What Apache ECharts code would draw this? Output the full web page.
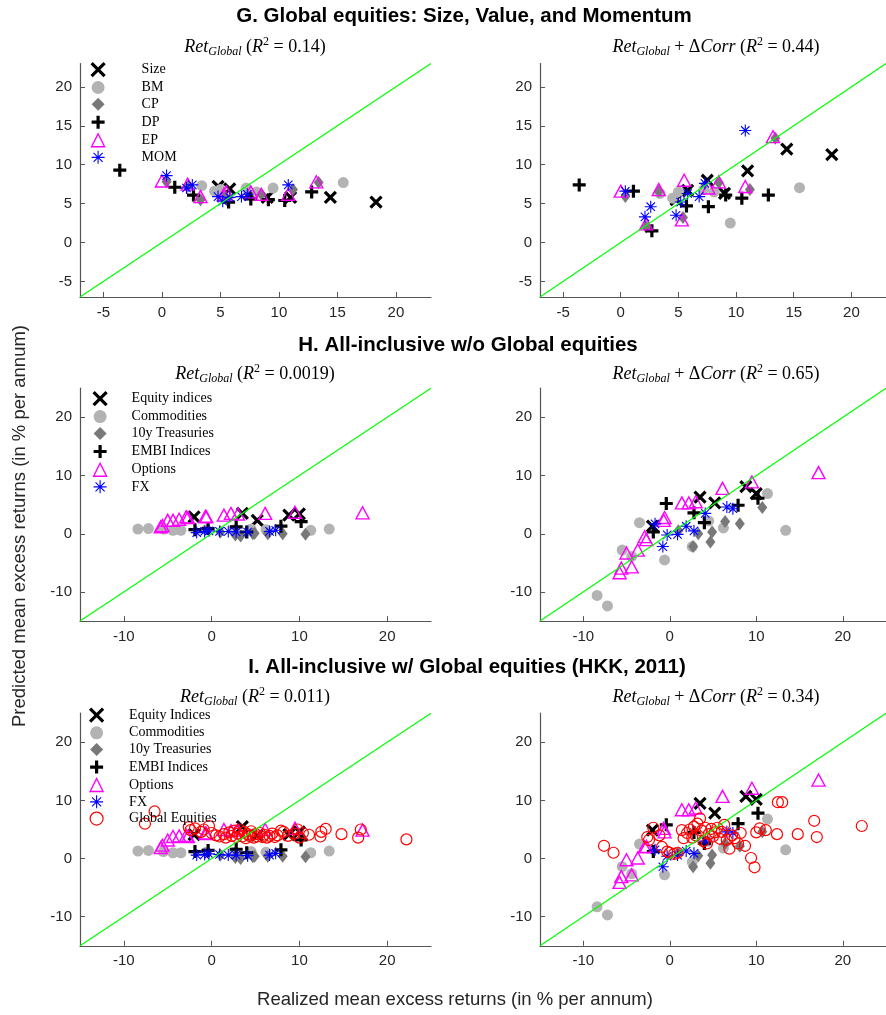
<!DOCTYPE html>
<html>
<head>
<meta charset="utf-8">
<script src="https://cdn.jsdelivr.net/npm/echarts@6/dist/echarts.min.js"></script>
<style>
html, body { margin: 0; padding: 0; background: #fff; }
#chart { width: 886px; height: 1015px; }
</style>
</head>
<body>
<div id="chart"></div>
<script>
// ---- panel G: global equities (x = realized, y = predicted) ----
var sizeX = [4.8, 5.8, 7.5, 9.0, 11.0, 14.4, 18.3];
var sizeRet = [7.2, 6.9, 6.2, 5.8, 5.8, 5.8, 5.2];
var sizeCorr = [5.5, 6.7, 8.0, 6.3, 9.2, 12.0, 11.3];

var bmX = [3.4, 4.5, 5.0, 7.2, 8.1, 9.5, 15.5];
var bmRet = [7.3, 6.6, 6.8, 7.0, 6.5, 7.0, 7.7];
var bmCorr = [6.3, 5.7, 6.5, 6.8, 6.5, 2.5, 7.05];

var cpX = [0.4, 2.2, 3.3, 5.4, 8.5, 11.2, 13.4];
var cpRet = [7.8, 7.2, 5.5, 5.9, 6.2, 6.8, 7.7];
var cpCorr = [5.9, 2.0, 6.6, 3.2, 7.7, 6.8, 13.4];

var dpX = [-3.6, 1.1, 2.7, 5.7, 7.6, 9.1, 10.5, 12.8];
var dpRet = [9.3, 7.1, 6.1, 5.2, 5.6, 5.5, 5.4, 6.5];
var dpCorr = [7.4, 6.6, 1.5, 4.7, 4.6, 6.1, 5.7, 6.1];

var epX = [0.0, 2.2, 3.3, 5.3, 5.5, 7.6, 8.5, 10.8, 13.2];
var epRet = [7.9, 7.5, 5.9, 6.2, 6.5, 6.5, 6.2, 6.2, 7.8];
var epCorr = [6.6, 2.4, 6.8, 2.9, 8.0, 7.0, 7.8, 7.2, 13.6];

var momX = [0.4, 2.1, 2.6, 4.8, 5.2, 5.8, 6.8, 7.3, 10.8];
var momRet = [8.6, 7.0, 7.4, 5.9, 5.3, 5.8, 5.9, 6.2, 7.4];
var momCorr = [6.6, 3.3, 4.6, 3.5, 5.2, 6.3, 5.9, 7.6, 14.4];

// ---- panels H and I: all-inclusive ----
var eqX = [-2.0, 3.5, 5.2, 8.8, 10.0];
var eqRetH = [2.9, 3.5, 2.3, 3.2, 3.4];
var eqCorrH = [1.3, 6.3, 5.3, 8.1, 6.9];
var eqRetI = [4.1, 5.5, 4.0, 4.1, 4.6];
var eqCorrI = [4.9, 9.5, 7.8, 10.7, 10.2];

var comX = [-8.4, -7.2, -5.5, -4.4, -3.5, -0.6, 2.6, 4.5, 6.2, 11.3, 13.4];
var comRetH = [0.8, 0.9, 0.8, 0.6, 0.6, 0.7, 0.7, 0.8, 0.7, 0.6, 0.8];
var comCorrH = [-10.6, -12.4, -2.8, -3.9, 1.9, -4.5, -2.2, 2.2, 1.0, 6.9, 0.6];
var comRetI = [1.3, 1.4, 1.2, 1.0, 1.0, 1.1, 1.1, 1.2, 1.1, 1.0, 1.3];
var comCorrI = [-8.3, -9.7, -1.4, -2.6, 2.5, -2.8, -0.6, 3.0, 1.8, 6.8, 1.5];

var tsyX = [1.0, 2.7, 3.3, 4.7, 4.9, 6.4, 8.1, 10.7];
var tsyRetH = [0.3, -0.2, -0.4, 0.0, 0.1, 0.0, 0.0, -0.1];
var tsyCorrH = [0.5, -2.2, 0.0, -1.4, 0.3, 2.1, 1.7, 4.5];
var tsyRetI = [0.6, 0.2, 0.0, 0.3, 0.4, 0.4, 0.4, 0.3];
var tsyCorrI = [1.0, -1.4, 0.5, -0.8, 0.6, 2.6, 2.1, 4.6];

var embiX = [-1.9, -0.4, 2.8, 4.0, 7.9, 10.2];
var embiRetH = [0.7, 0.9, 1.2, 0.3, 1.3, 2.1];
var embiCorrH = [0.3, 5.2, 3.6, 1.9, 4.9, 6.1];
var embiRetI = [1.2, 1.4, 1.6, 1.0, 1.5, 3.2];
var embiCorrI = [1.2, 5.8, 4.5, 2.6, 6.0, 7.8];

var optX = [-5.8, -5.6, -5.0, -4.4, -3.7, -2.9, -2.7, -0.7, -0.6, 1.4, 2.2, 3.0, 6.1, 9.5, 17.2];
var optRetH = [1.2, 1.4, 2.3, 2.3, 2.5, 2.9, 2.8, 3.0, 2.9, 3.2, 3.5, 3.4, 3.5, 3.7, 3.6];
var optCorrH = [-6.7, -5.9, -3.3, -5.7, -2.8, -0.5, -1.0, 2.3, 2.8, 5.3, 5.3, 5.5, 7.8, 8.9, 10.5];
var optRetI = [1.9, 2.3, 3.2, 3.8, 3.9, 4.0, 3.8, 4.4, 4.3, 5.0, 4.8, 4.9, 5.0, 5.2, 4.9];
var optCorrI = [-4.1, -3.1, -0.2, -2.8, 0.1, 2.0, 2.1, 5.2, 4.6, 8.4, 8.4, 8.7, 10.7, 12.1, 13.5];

var fxX = [-1.7, -0.8, -0.3, 0.9, 1.9, 2.8, 4.1, 6.6, 7.3];
var fxRetH = [0.2, 0.4, 0.5, 0.4, 0.4, 0.3, 0.3, 0.4, 0.6];
var fxCorrH = [1.7, -2.2, -0.2, -0.1, 1.3, 0.5, 3.5, 4.6, 4.3];
var fxRetI = [0.6, 0.7, 0.8, 0.7, 0.6, 0.6, 0.5, 0.6, 0.9];
var fxCorrI = [1.5, -1.4, 0.4, 0.6, 1.3, 0.9, 3.0, 4.6, 4.4];

var geX = [-7.6, -6.5, -2.6, -2.4, -1.9, -1.2, -0.9, -0.3, 0.0, 0.5, 0.9, 1.4, 1.6, 2.0, 2.3, 2.6, 2.8,
  3.0, 3.2, 3.5, 3.7, 3.9, 4.1, 4.3, 4.5, 4.8, 5.0, 5.2, 5.5, 5.8, 6.0, 6.3, 6.6, 6.9, 7.2, 7.5, 7.9,
  8.2, 8.7, 9.4, 9.8, 10.0, 10.4, 11.1, 12.4, 12.5, 13.0, 14.8, 16.7, 17.0, 22.2];
var geRetI = [6.0, 8.1, 5.4, 4.9, 5.2, 4.6, 5.0, 5.6, 4.4, 4.0, 3.8, 4.2, 3.6, 4.5, 3.9, 4.8, 3.7,
  4.3, 5.0, 3.8, 4.6, 3.5, 4.2, 3.9, 4.7, 3.6, 4.2, 3.8, 4.4, 3.7, 4.1, 3.6, 3.9, 4.3, 3.7, 4.0, 4.8,
  4.6, 3.9, 4.3, 5.0, 3.6, 4.4, 4.1, 3.8, 4.6, 5.1, 4.2, 3.6, 5.0, 3.3];
var geCorrI = [2.2, 1.0, 3.7, 3.2, 5.3, 4.0, 2.0, 1.2, 1.0, 0.8, 1.0, 4.9, 3.5, 4.4, 5.0, 3.6, 5.5,
  4.0, 6.0, 6.9, 4.8, 3.0, 5.3, 2.6, 4.2, 5.1, 3.8, 4.5, 5.3, 3.4, 4.6, 5.8, 3.2, 1.7, 4.0, 3.5, 2.6,
  4.4, 2.2, 0.1, -1.5, 4.5, 5.2, 4.9, 4.2, 9.7, 9.7, 4.2, 6.5, 3.7, 5.6];

var ticksG = [-5, 0, 5, 10, 15, 20];
var ticksHI = [-10, 0, 10, 20];

var mk = {
  cross: { symbol: 'path://M0,0L10,10M10,0L0,10', symbolSize: 11, itemStyle: { color: 'transparent', borderColor: '#000', borderWidth: 3.2, opacity: 1 } },
  dot: { symbol: 'circle', symbolSize: 11, itemStyle: { color: '#b3b3b3', opacity: 1 } },
  diamond: { symbol: 'diamond', symbolSize: [10, 13], itemStyle: { color: '#787878', opacity: 1 } },
  plus: { symbol: 'path://M5,0L5,10M0,5L10,5', symbolSize: 13, itemStyle: { color: 'transparent', borderColor: '#000', borderWidth: 3.2, opacity: 1 } },
  tri: { symbol: 'triangle', symbolSize: [13, 12], itemStyle: { color: 'transparent', borderColor: '#ff00ff', borderWidth: 1.4, opacity: 1 } },
  star: { symbol: 'path://M5,0L5,10M0,5L10,5M1.5,1.5L8.5,8.5M8.5,1.5L1.5,8.5', symbolSize: 12, itemStyle: { color: 'transparent', borderColor: '#0000ff', borderWidth: 1.1, opacity: 1 } },
  ring: { symbol: 'circle', symbolSize: 11, itemStyle: { color: 'transparent', borderColor: '#ff0000', borderWidth: 1.2, opacity: 1 } }
};

function pts(xs, ys) {
  return xs.map(function (x, i) { return [x, ys[i]]; });
}

function scatter(name, kind, idx, xs, ys) {
  var m = mk[kind];
  return {
    name: name, type: 'scatter', xAxisIndex: idx, yAxisIndex: idx,
    symbol: m.symbol, symbolSize: m.symbolSize, itemStyle: m.itemStyle,
    silent: true, emphasis: { disabled: true }, data: pts(xs, ys)
  };
}

function diag(idx, lo, hi) {
  return {
    type: 'line', xAxisIndex: idx, yAxisIndex: idx, z: 5, symbol: 'none', silent: true,
    lineStyle: { color: '#00ff00', width: 1.2 }, data: [[lo, lo], [hi, hi]]
  };
}

function axis(idx, lo, hi, ticks) {
  return {
    type: 'value', gridIndex: idx, min: lo, max: hi,
    axisLine: { show: true, onZero: false, lineStyle: { color: '#555', width: 1.2 } },
    axisTick: { show: true, inside: true, length: 5, customValues: ticks, lineStyle: { color: '#555' } },
    axisLabel: { customValues: ticks, color: '#262626', fontSize: 15, fontFamily: 'Liberation Sans', margin: 8 },
    splitLine: { show: false }
  };
}

var grids = [
  { left: 80, top: 63.5, width: 351, height: 233.5 },
  { left: 540, top: 63.5, width: 352, height: 233.5 },
  { left: 80, top: 388.2, width: 351, height: 232.9 },
  { left: 540, top: 388.2, width: 352, height: 232.9 },
  { left: 80, top: 713.2, width: 351, height: 232.6 },
  { left: 540, top: 713.2, width: 352, height: 232.6 }
];

var xAxes = [], yAxes = [];
for (var i = 0; i < 6; i++) {
  var lo = i < 2 ? -7 : -15, hi = i < 2 ? 23 : 25, tk = i < 2 ? ticksG : ticksHI;
  xAxes.push(axis(i, lo, hi, tk));
  yAxes.push(axis(i, lo, hi, tk));
}

var series = [
  scatter('Size', 'cross', 0, sizeX, sizeRet),
  scatter('BM', 'dot', 0, bmX, bmRet),
  scatter('CP', 'diamond', 0, cpX, cpRet),
  scatter('DP', 'plus', 0, dpX, dpRet),
  scatter('EP', 'tri', 0, epX, epRet),
  scatter('MOM', 'star', 0, momX, momRet),
  diag(0, -7, 23),
  scatter('Size', 'cross', 1, sizeX, sizeCorr),
  scatter('BM', 'dot', 1, bmX, bmCorr),
  scatter('CP', 'diamond', 1, cpX, cpCorr),
  scatter('DP', 'plus', 1, dpX, dpCorr),
  scatter('EP', 'tri', 1, epX, epCorr),
  scatter('MOM', 'star', 1, momX, momCorr),
  diag(1, -7, 23),

  scatter('Equity indices', 'cross', 2, eqX, eqRetH),
  scatter('Commodities', 'dot', 2, comX, comRetH),
  scatter('10y Treasuries', 'diamond', 2, tsyX, tsyRetH),
  scatter('EMBI Indices', 'plus', 2, embiX, embiRetH),
  scatter('Options', 'tri', 2, optX, optRetH),
  scatter('FX', 'star', 2, fxX, fxRetH),
  diag(2, -15, 25),
  scatter('Equity indices', 'cross', 3, eqX, eqCorrH),
  scatter('Commodities', 'dot', 3, comX, comCorrH),
  scatter('10y Treasuries', 'diamond', 3, tsyX, tsyCorrH),
  scatter('EMBI Indices', 'plus', 3, embiX, embiCorrH),
  scatter('Options', 'tri', 3, optX, optCorrH),
  scatter('FX', 'star', 3, fxX, fxCorrH),
  diag(3, -15, 25),

  scatter('Equity Indices', 'cross', 4, eqX, eqRetI),
  scatter('Commodities', 'dot', 4, comX, comRetI),
  scatter('10y Treasuries', 'diamond', 4, tsyX, tsyRetI),
  scatter('EMBI Indices', 'plus', 4, embiX, embiRetI),
  scatter('Options', 'tri', 4, optX, optRetI),
  scatter('FX', 'star', 4, fxX, fxRetI),
  scatter('Global Equities', 'ring', 4, geX, geRetI),
  diag(4, -15, 25),
  scatter('Equity Indices', 'cross', 5, eqX, eqCorrI),
  scatter('Commodities', 'dot', 5, comX, comCorrI),
  scatter('10y Treasuries', 'diamond', 5, tsyX, tsyCorrI),
  scatter('EMBI Indices', 'plus', 5, embiX, embiCorrI),
  scatter('Options', 'tri', 5, optX, optCorrI),
  scatter('FX', 'star', 5, fxX, fxCorrI),
  scatter('Global Equities', 'ring', 5, geX, geCorrI),
  diag(5, -15, 25)
];

function legendAt(names, left, top, gap, padLeft) {
  return {
    data: names, left: left, top: top, orient: 'vertical', padding: 0,
    itemWidth: 13, itemHeight: 13, itemGap: gap, selectedMode: false,
    itemStyle: { borderWidth: 'inherit' },
    textStyle: { fontFamily: 'Liberation Serif', fontSize: 14, color: '#000', lineHeight: 13, padding: [0, 0, 0, padLeft] }
  };
}

var serif = 'Liberation Serif';
var subRich = {
  it: { fontFamily: serif, fontStyle: 'italic', fontSize: 18, lineHeight: 22, color: '#000' },
  n: { fontFamily: serif, fontSize: 18, lineHeight: 22, color: '#000' },
  sub: { fontFamily: serif, fontStyle: 'italic', fontSize: 12, lineHeight: 11, verticalAlign: 'bottom', color: '#000' },
  sup: { fontFamily: serif, fontSize: 12, lineHeight: 11, verticalAlign: 'top', color: '#000' }
};
function subtitle(x, y, r2, withCorr) {
  var txt = '{it|Ret}{sub|Global}' + (withCorr ? '{n| + Δ}{it|Corr}' : '') +
    '{n| (}{it|R}{sup|2}{n| = ' + r2 + ')}';
  return { type: 'text', x: x, y: y, style: { text: txt, rich: subRich, align: 'center', verticalAlign: 'middle' } };
}
function heading(x, y, txt) {
  return { type: 'text', x: x, y: y, style: { text: txt, align: 'center', verticalAlign: 'middle',
    fontFamily: 'Liberation Sans', fontWeight: 'bold', fontSize: 20.5, fill: '#000' } };
}

var chart = echarts.init(document.getElementById('chart'));
chart.setOption({
  animation: false,
  backgroundColor: '#fff',
  grid: grids,
  xAxis: xAxes,
  yAxis: yAxes,
  legend: [
    legendAt(['Size', 'BM', 'CP', 'DP', 'EP', 'MOM'], 90, 61.5, 2.8, 32),
    legendAt(['Equity indices', 'Commodities', '10y Treasuries', 'EMBI Indices', 'Options', 'FX'], 92, 390.5, 2.9, 20),
    legendAt(['Equity Indices', 'Commodities', '10y Treasuries', 'EMBI Indices', 'Options', 'FX', 'Global Equities'], 88.5, 707, 2.6, 21)
  ],
  graphic: [
    heading(464, 16, 'G. Global equities: Size, Value, and Momentum'),
    heading(468, 345, 'H. All-inclusive w/o Global equities'),
    heading(467, 667, 'I. All-inclusive w/ Global equities (HKK, 2011)'),
    subtitle(255, 47, '0.14', false),
    subtitle(716, 47, '0.44', true),
    subtitle(255, 374, '0.0019', false),
    subtitle(716, 374, '0.65', true),
    subtitle(255, 697, '0.011', false),
    subtitle(716, 697, '0.34', true),
    { type: 'text', x: 20, y: 526, rotation: Math.PI / 2,
      style: { text: 'Predicted mean excess returns (in % per annum)', align: 'center', verticalAlign: 'middle',
        fontFamily: 'Liberation Sans', fontSize: 18.5, fill: '#262626' } },
    { type: 'text', x: 455, y: 1000,
      style: { text: 'Realized mean excess returns (in % per annum)', align: 'center', verticalAlign: 'middle',
        fontFamily: 'Liberation Sans', fontSize: 18.5, fill: '#262626' } }
  ],
  series: series
});
</script>
</body>
</html>
